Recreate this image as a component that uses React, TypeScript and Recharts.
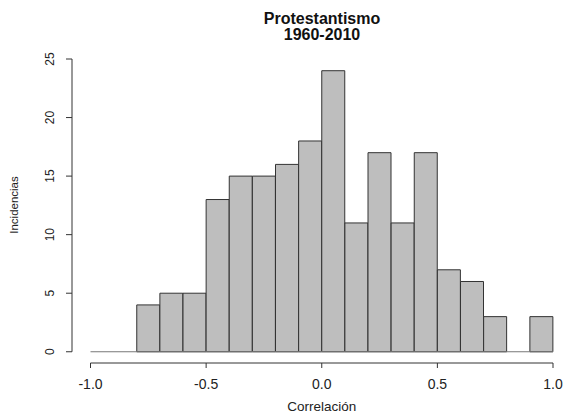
import React from "react";
import {
  BarChart,
  Bar,
  XAxis,
  YAxis,
  ReferenceLine,
} from "recharts";

// histogram bins (left edge), width 0.1
const binStarts = [
  -1.0, -0.9, -0.8, -0.7, -0.6, -0.5, -0.4, -0.3, -0.2, -0.1,
  0.0, 0.1, 0.2, 0.3, 0.4, 0.5, 0.6, 0.7, 0.8, 0.9,
];
const counts = [0, 0, 4, 5, 5, 13, 15, 15, 16, 18, 24, 11, 17, 11, 17, 7, 6, 3, 0, 3];
const binWidth = 0.1;

const xTicks = [-1.0, -0.5, 0.0, 0.5, 1.0];
const yTicks = [0, 5, 10, 15, 20, 25];

const titleLines = ["Protestantismo", "1960-2010"];
const xTitle = "Correlación";
const yTitle = "Incidencias";

const data = binStarts.map((s, i) => ({
  mid: +(s + binWidth / 2).toFixed(2),
  count: counts[i],
}));

const xMin = binStarts[0];
const xMax = binStarts[binStarts.length - 1] + binWidth;
// R extends axis ranges by 4%
const xPad = (xMax - xMin) * 0.04;
const yTop = 25;
const yPad = 24 * 0.04;

const FONT = "'Liberation Sans', Arial, sans-serif";
const AXIS = "#333";
const TEXT = "#222";

function YTick(props: any) {
  const { x, y, payload } = props;
  const tx = x - 10;
  return (
    <text
      x={tx}
      y={y}
      transform={`rotate(-90 ${tx} ${y})`}
      textAnchor="middle"
      fontSize={12}
      fontFamily={FONT}
      fill={TEXT}
    >
      {payload.value}
    </text>
  );
}

function XTitle(props: any) {
  const { viewBox } = props;
  const cx = viewBox.x + viewBox.width / 2;
  return (
    <text x={cx} y={411} textAnchor="middle" fontSize={13.5} fontFamily={FONT} fill={TEXT}>
      {xTitle}
    </text>
  );
}

function YTitle() {
  const cy = 205;
  const cx = 18;
  return (
    <text
      x={cx}
      y={cy}
      transform={`rotate(-90 ${cx} ${cy})`}
      textAnchor="middle"
      fontSize={11.5}
      fontFamily={FONT}
      fill={TEXT}
    >
      {yTitle}
    </text>
  );
}

export default function App() {
  return (
    <div
      style={{
        position: "fixed",
        left: 0,
        top: 0,
        width: 565,
        height: 417,
        overflow: "hidden",
        background: "#fff",
      }}
    >
      <div
        style={{
          position: "absolute",
          left: 222,
          width: 200,
          top: 11,
          textAlign: "center",
          fontFamily: FONT,
          fontWeight: "bold",
          fontSize: 16,
          lineHeight: "16px",
          color: "#111",
        }}
      >
        {titleLines.map((t) => (
          <div key={t}>{t}</div>
        ))}
      </div>
      <BarChart
        width={580}
        height={417}
        data={data}
        margin={{ top: 59, right: 8.5, left: 0, bottom: 0 }}
        barCategoryGap={0}
        barGap={0}
      >
        <XAxis
          dataKey="mid"
          type="number"
          domain={[xMin - xPad, xMax + xPad]}
          ticks={xTicks}
          tickFormatter={(v: number) => v.toFixed(1)}
          height={54}
          axisLine={false}
          tickLine={{ stroke: AXIS }}
          tickSize={5}
          tickMargin={11}
          tick={{ fontSize: 14, fontFamily: FONT, fill: TEXT }}
          label={<XTitle />}
        />
        <YAxis
          type="number"
          domain={[-yPad, yTop]}
          ticks={yTicks}
          width={72}
          axisLine={false}
          tickLine={{ stroke: AXIS }}
          tickSize={6}
          tick={<YTick />}
          label={<YTitle />}
        />
        <ReferenceLine
          segment={[
            { x: xMin, y: 0 },
            { x: xMax, y: 0 },
          ]}
          stroke="#777"
          ifOverflow="visible"
        />
        <ReferenceLine
          segment={[
            { x: xMin, y: -yPad },
            { x: xMax, y: -yPad },
          ]}
          stroke={AXIS}
          ifOverflow="visible"
        />
        <ReferenceLine
          segment={[
            { x: xMin - xPad, y: 0 },
            { x: xMin - xPad, y: yTop },
          ]}
          stroke={AXIS}
          ifOverflow="visible"
        />
        <Bar
          dataKey="count"
          fill="#BEBEBE"
          stroke="#333"
          strokeWidth={1}
          isAnimationActive={false}
        />
      </BarChart>
    </div>
  );
}
